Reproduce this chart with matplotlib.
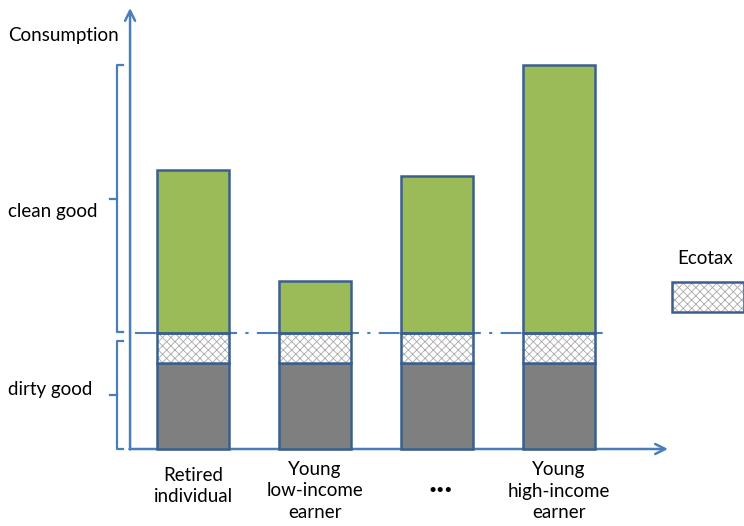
import matplotlib.pyplot as plt
from matplotlib.patches import Rectangle

# consumption split per household type
categories = ['Retired\nindividual', 'Young\nlow-income\nearner', '\u2022\u2022\u2022', 'Young\nhigh-income\nearner']
dirty = [8.6, 8.6, 8.6, 8.6]
ecotax = [3.0, 3.0, 3.0, 3.0]
clean = [16.3, 5.2, 15.7, 26.8]

axis_blue = '#4a7ebb'
edge_blue = '#3b5f8c'
green = '#9bbb59'
grey = '#7f7f7f'
hatch_grey = '#a8a8a8'
fs = 13.5

plt.rcParams['font.family'] = ['Lato', 'DejaVu Sans']
plt.rcParams['hatch.linewidth'] = 0.6

fig = plt.figure(figsize=(7.44, 5.26), dpi=100)
ax = fig.add_axes([0, 0, 1, 1])
ax.set_xlim(-1.582, 4.516)
ax.set_ylim(-7.7, 44.9)
ax.axis('off')

x = list(range(len(categories)))
w = 0.59
tax_bottom = dirty
clean_bottom = [d + e for d, e in zip(dirty, ecotax)]

# stacked bars: dirty good, ecotax band, clean good
ax.bar(x, dirty, w, color=grey, edgecolor=edge_blue, lw=1.8, zorder=3)
ax.bar(x, ecotax, w, bottom=tax_bottom, color='white', edgecolor=hatch_grey,
       hatch='xxxx', lw=0, zorder=3)
ax.bar(x, ecotax, w, bottom=tax_bottom, fill=False, edgecolor=edge_blue, lw=1.8, zorder=4)
ax.bar(x, clean, w, bottom=clean_bottom, color=green, edgecolor=edge_blue, lw=1.8, zorder=3)

tax_line = clean_bottom[0]
top = max(b + c for b, c in zip(clean_bottom, clean))

# dash-dot line at the ecotax threshold
ax.plot([-0.475, 3.418], [tax_line, tax_line], color=axis_blue, lw=1.5,
        ls=(0, (10, 4, 1.5, 4)), zorder=2)

# axes with open arrow heads
y_axis_x = -0.516
ax.annotate('', xy=(y_axis_x, 44.1), xytext=(y_axis_x, -0.05),
            arrowprops=dict(arrowstyle='->', color=axis_blue, lw=1.8, mutation_scale=18,
                            shrinkA=0, shrinkB=0))
ax.annotate('', xy=(3.893, 0), xytext=(y_axis_x - 0.005, 0),
            arrowprops=dict(arrowstyle='->', color=axis_blue, lw=1.8, mutation_scale=18,
                            shrinkA=0, shrinkB=0), zorder=2)


def brace(y0, y1):
    xv, xr, xl = -0.623, -0.571, -0.680
    ym = (y0 + y1) / 2
    ax.plot([xr, xv, xv, xr], [y1, y1, y0, y0], color=axis_blue, lw=1.6,
            solid_joinstyle='round')
    ax.plot([xv, xl], [ym, ym], color=axis_blue, lw=1.6)


brace(tax_line + 0.1, top)
brace(0, tax_line - 0.8)

# side labels
ax.text(-1.516, 41.4, 'Consumption', fontsize=fs, va='center', ha='left')
ax.text(-1.516, 23.7, 'clean good', fontsize=fs, va='center', ha='left')
ax.text(-1.516, 5.9, 'dirty good', fontsize=fs, va='center', ha='left')

# category labels under the bars
for xi, lab in zip(x, categories):
    if lab.startswith('\u2022'):
        ax.text(xi + 0.03, -4.1, lab, fontsize=10, ha='center', va='center')
    else:
        n = lab.count('\n') + 1
        yc = -3.7 if n == 2 else -4.2
        ax.text(xi, yc, lab, fontsize=fs, ha='center', va='center', linespacing=1.35)

# legend swatch for the ecotax band
lx, ly = 3.926, 13.7
ax.add_patch(Rectangle((lx, ly), w, ecotax[0], facecolor='white', edgecolor=hatch_grey,
                       hatch='xxxx', lw=0, clip_on=False))
ax.add_patch(Rectangle((lx, ly), w, ecotax[0], fill=False, edgecolor=edge_blue, lw=1.8,
                       clip_on=False))
ax.text(4.197, 19.1, 'Ecotax', fontsize=fs, ha='center', va='center')

fig.savefig('out.png', dpi=100)
